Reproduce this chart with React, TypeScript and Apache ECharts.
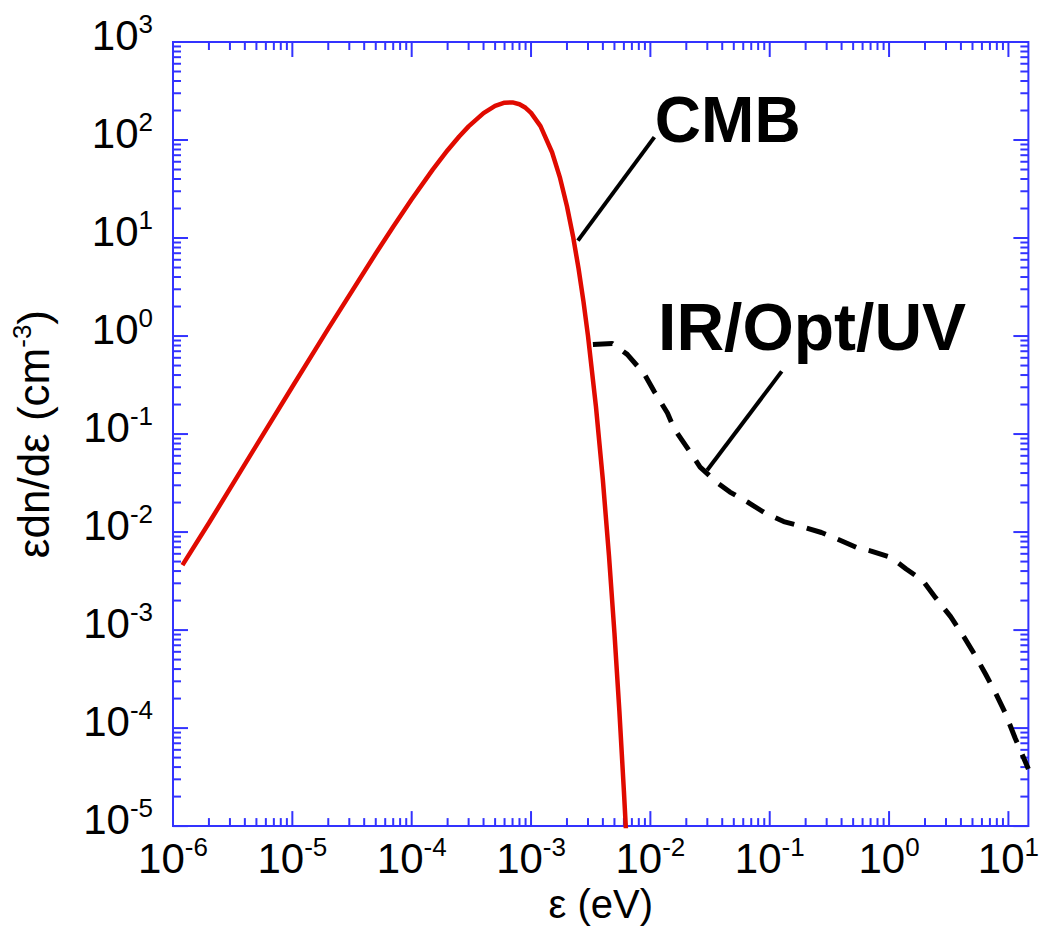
import React, { useEffect, useRef } from 'react';
import * as echarts from 'echarts';

const FONT = '"Liberation Sans", Arial, Helvetica, sans-serif';
const AXIS_BLUE = '#3333ff';
const CMB_RED = '#e00a00';

const X_MIN = 1e-6;
const X_MAX = 14.7;
const Y_MIN = 1e-5;
const Y_MAX = 1e3;

// CMB photon spectrum (eV, cm^-3)
const cmbEnergy = [
  1.2e-6, 2e-6, 5e-6, 1e-5, 2e-5, 5e-5, 7e-5, 1e-4, 1.5e-4, 2e-4, 2.5e-4, 3e-4,
  4e-4, 5e-4, 6e-4, 7e-4, 8e-4, 9e-4, 1e-3, 1.2e-3, 1.5e-3, 1.75e-3, 2e-3,
  2.25e-3, 2.5e-3, 2.75e-3, 3e-3, 3.5e-3, 4e-3, 4.5e-3, 5e-3, 5.5e-3, 6e-3,
  6.2e-3, 6.4e-3,
];
const cmbDensity = [
  4.6e-3, 0.01236, 0.0767, 0.3037, 1.189, 6.956, 13.05, 24.88, 49.85, 78.64,
  108.6, 137.8, 188.2, 222.9, 240.3, 242.1, 231.8, 213.1, 189.4, 138.5, 75.0,
  41.05, 21.1, 10.37, 4.9, 2.25, 1.008, 0.19, 0.0338, 5.72e-3, 9.32e-4,
  1.48e-4, 2.28e-5, 1.07e-5, 5.0e-6,
];

// IR / optical / UV background
const eblEnergy = [
  3.3e-3, 4.8e-3, 6.4e-3, 8.9e-3, 1.08e-2, 1.39e-2, 1.58e-2, 2.11e-2, 2.61e-2,
  3.62e-2, 4.64e-2, 6.68e-2, 9.08e-2, 0.131, 0.185, 0.271, 0.376, 0.531, 0.708,
  1.04, 1.39, 1.92, 2.46, 3.28, 4.22, 5.31, 6.43, 7.79, 9.44, 11.4, 14.7,
];
const eblDensity = [
  0.82, 0.84, 0.65, 0.41, 0.27, 0.164, 0.114, 0.068, 0.046, 0.032, 0.0256,
  0.0199, 0.0157, 0.0128, 0.0114, 0.0099, 0.0084, 0.007, 0.0064, 0.0055,
  0.0042, 0.0032, 2.13e-3, 1.37e-3, 8.61e-4, 5.42e-4, 3.56e-4, 2.29e-4,
  1.41e-4, 7.87e-5, 3.83e-5,
];

// axis decades and minor multipliers
const xDecades = [-6, -5, -4, -3, -2, -1, 0, 1];
const yDecades = [-5, -4, -3, -2, -1, 0, 1, 2, 3];
const minorSteps = [2, 3, 4, 5, 6, 7, 8, 9];

// annotations (data coordinates)
const cmbPointerEnergy = [2.47e-3, 1.08e-2];
const cmbPointerDensity = [9.4, 107];
const irPointerEnergy = [0.0299, 0.126];
const irPointerDensity = [0.0428, 0.436];
const annotationText = ['CMB', 'IR/Opt/UV'];
const annotationEnergy = [1.09e-2, 1.16e-2];
const annotationDensity = [161, 1.227];
const annotationSize = [64, 66];

const zip = (a: number[], b: number[]) => a.map((v, i) => [v, b[i]]);

const powerLabel = (v: number) => {
  const e = Math.log10(v);
  const r = Math.round(e);
  if (Math.abs(e - r) > 1e-6) return '';
  return `{b|10}{s|${r}}`;
};

const labelRich = {
  b: { fontSize: 42, fontFamily: FONT, color: '#000', lineHeight: 48 },
  s: { fontSize: 26, fontFamily: FONT, color: '#000', verticalAlign: 'top' as const, lineHeight: 48 },
};

function buildTicks() {
  const items: number[][] = [];
  xDecades.forEach((d) => {
    const base = Math.pow(10, d);
    if (base >= X_MIN && base <= X_MAX) items.push([base, 1, 0, 1]);
    minorSteps.forEach((m) => {
      const v = m * base;
      if (v > X_MIN && v < X_MAX) items.push([v, 1, 0, 0]);
    });
  });
  yDecades.forEach((d) => {
    const base = Math.pow(10, d);
    if (base >= Y_MIN && base <= Y_MAX) items.push([1, base, 1, 1]);
    minorSteps.forEach((m) => {
      const v = m * base;
      if (v > Y_MIN && v < Y_MAX) items.push([1, v, 1, 0]);
    });
  });
  return items;
}

export default function App() {
  const ref = useRef<HTMLDivElement>(null);
  useEffect(() => {
    if (!ref.current) return;
    const chart = echarts.init(ref.current, undefined, { renderer: 'svg' });
    const tickStyle = { stroke: AXIS_BLUE, lineWidth: 2 };
    const option: any = {
      animation: false,
      backgroundColor: '#ffffff',
      grid: {
        left: 173, right: 8, top: 42, bottom: 94,
        show: true, borderColor: AXIS_BLUE, borderWidth: 2, backgroundColor: 'transparent',
      },
      xAxis: {
        type: 'log', logBase: 10, min: X_MIN, max: X_MAX,
        axisLine: { show: false }, axisTick: { show: false },
        splitLine: { show: false }, minorTick: { show: false },
        axisLabel: { margin: 8, formatter: powerLabel, rich: labelRich, showMaxLabel: false },
        name: 'ε (eV)', nameLocation: 'middle', nameGap: 52,
        nameTextStyle: { fontSize: 40, fontFamily: FONT, color: '#000' },
      },
      yAxis: {
        type: 'log', logBase: 10, min: Y_MIN, max: Y_MAX,
        axisLine: { show: false }, axisTick: { show: false },
        splitLine: { show: false }, minorTick: { show: false },
        axisLabel: { margin: 20, formatter: powerLabel, rich: labelRich, padding: [0, 0, 14, 0] },
        name: '{t|εdn/dε (cm}{s|-3}{t|)}', nameLocation: 'middle', nameGap: 116, nameRotate: 90,
        nameTextStyle: {
          fontFamily: FONT, color: '#000',
          rich: {
            t: { fontSize: 44, fontFamily: FONT, color: '#000', lineHeight: 48 },
            s: { fontSize: 26, fontFamily: FONT, color: '#000', verticalAlign: 'top', lineHeight: 48 },
          },
        },
      },
      series: [
        {
          type: 'custom',
          silent: true,
          z: 1,
          dimensions: ['x', 'y', 'axis', 'major'],
          encode: { x: 0, y: 1 },
          data: buildTicks(),
          renderItem: (params: any, api: any) => {
            const cs = params.coordSys;
            const p = api.coord([api.value(0), api.value(1)]);
            const isY = api.value(2) === 1;
            const len = api.value(3) === 1 ? 15 : 8;
            if (!isY) {
              const bottom = cs.y + cs.height;
              return {
                type: 'group',
                children: [
                  { type: 'line', shape: { x1: p[0], y1: bottom, x2: p[0], y2: bottom - len }, style: tickStyle },
                  { type: 'line', shape: { x1: p[0], y1: cs.y, x2: p[0], y2: cs.y + len }, style: tickStyle },
                ],
              };
            }
            const right = cs.x + cs.width;
            return {
              type: 'group',
              children: [
                { type: 'line', shape: { x1: cs.x, y1: p[1], x2: cs.x + len, y2: p[1] }, style: tickStyle },
                { type: 'line', shape: { x1: right, y1: p[1], x2: right - len, y2: p[1] }, style: tickStyle },
              ],
            };
          },
        },
        {
          name: 'CMB', type: 'line', data: zip(cmbEnergy, cmbDensity),
          showSymbol: false, symbol: 'none', clip: true, z: 3,
          lineStyle: { color: CMB_RED, width: 4.5 },
        },
        {
          name: 'IR/Opt/UV', type: 'line', data: zip(eblEnergy, eblDensity),
          showSymbol: false, symbol: 'none', clip: true, z: 3,
          lineStyle: { color: '#000', width: 5, type: [20, 13] },
        },
        {
          type: 'line', data: zip(cmbPointerEnergy, cmbPointerDensity),
          showSymbol: false, symbol: 'none', z: 4, silent: true,
          lineStyle: { color: '#000', width: 4 },
        },
        {
          type: 'line', data: zip(irPointerEnergy, irPointerDensity),
          showSymbol: false, symbol: 'none', z: 4, silent: true,
          lineStyle: { color: '#000', width: 4 },
        },
      ],
    };
    chart.setOption(option);
    const graphics = annotationText.map((t, i) => {
      const pt = chart.convertToPixel({ gridIndex: 0 }, [annotationEnergy[i], annotationDensity[i]]);
      return {
        type: 'text', x: pt[0], y: pt[1], z: 10,
        style: {
          text: t, fill: '#000', font: `bold ${annotationSize[i]}px ${FONT}`,
          align: 'left', verticalAlign: 'middle',
        },
      };
    });
    chart.setOption({ graphic: graphics });
    return () => chart.dispose();
  }, []);
  return (
    <div
      ref={ref}
      style={{ position: 'fixed', left: 0, top: 0, width: 1042, height: 929, background: '#fff' }}
    />
  );
}
